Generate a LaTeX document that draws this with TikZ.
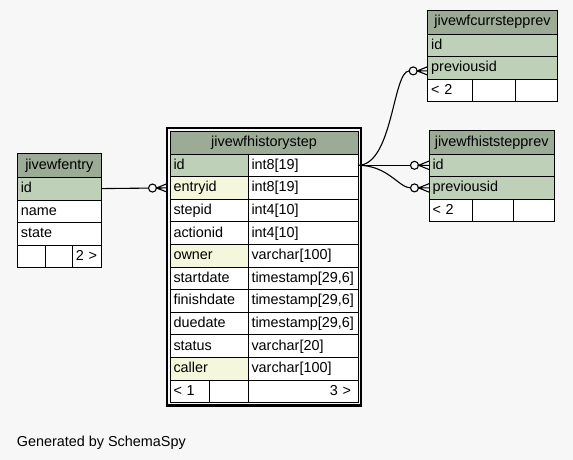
\documentclass[tikz,border=0pt]{standalone}
\usepackage{fontspec}
\setmainfont{Liberation Sans}
\usepackage{xcolor}
\usepackage{tikz}
\usetikzlibrary{arrows.meta,calc,fit,positioning}
\definecolor{ink}{RGB}{0,0,0}
\definecolor{bgfill}{RGB}{247,247,247}
\definecolor{headfill}{RGB}{155,171,150}
\definecolor{keyfill}{RGB}{190,209,184}
\definecolor{idxfill}{RGB}{245,247,220}
\newcommand\tabfont{\fontsize{14.4}{17}\selectfont}
% zero-or-many end: open circle, then crow's foot at the table
\pgfdeclarearrow{
  name=CrowO,
  setup code={
    \pgfarrowssettipend{0pt}
    \pgfarrowssetlineend{-18.5pt}
    \pgfarrowssetbackend{-18.5pt}
  },
  drawing code={
    \pgfsetdash{}{0pt}
    \pgfpathmoveto{\pgfqpoint{0pt}{4.2pt}}
    \pgfpathlineto{\pgfqpoint{-10.5pt}{0pt}}
    \pgfpathlineto{\pgfqpoint{0pt}{-4.2pt}}
    \pgfpathmoveto{\pgfqpoint{0pt}{0pt}}
    \pgfpathlineto{\pgfqpoint{-10.5pt}{0pt}}
    \pgfusepathqstroke
    \pgfpathcircle{\pgfqpoint{-14.5pt}{0pt}}{4pt}
    \pgfusepathqstroke
  }
}
\tikzset{
  cell/.style={draw=ink,line width=0.8pt,outer sep=0pt,inner xsep=3.5pt,inner ysep=0pt,minimum height=22.6pt,text height=11pt,text depth=3pt,align=left,fill=white,font=\tabfont},
  head/.style={cell,fill=headfill,align=center,minimum height=24pt},
  key/.style={cell,fill=keyfill},
  idx/.style={cell,fill=idxfill},
  mainframe/.style={draw=ink,line width=2.3pt,inner sep=3pt},
  fk/.style={draw=ink,line width=1.1pt,-{CrowO}}
}

\begin{document}
\begin{tikzpicture}[x=1pt,y=-1pt]
  \path[fill=bgfill,use as bounding box] (0,0) rectangle (573,460);
  % jivewfhistorystep
  \node[head,minimum height=23pt,text width=181pt,anchor=north west] (hhead) at (170,131) {jivewfhistorystep};
  \node[key,text width=71pt,below right=0pt of hhead.south west] (hid) {id};
  \node[cell,text width=103pt,right=0pt of hid] (hidt) {int8[19]};
  \node[idx,text width=71pt,below right=0pt of hid.south west] (hentry) {entryid};
  \node[cell,text width=103pt,right=0pt of hentry] (hentryt) {int8[19]};
  \node[cell,text width=71pt,below right=0pt of hentry.south west] (hstep) {stepid};
  \node[cell,text width=103pt,right=0pt of hstep] (hstept) {int4[10]};
  \node[cell,text width=71pt,below right=0pt of hstep.south west] (haction) {actionid};
  \node[cell,text width=103pt,right=0pt of haction] (hactiont) {int4[10]};
  \node[idx,text width=71pt,below right=0pt of haction.south west] (hown) {owner};
  \node[cell,text width=103pt,right=0pt of hown] (hownt) {varchar[100]};
  \node[cell,text width=71pt,below right=0pt of hown.south west] (hstart) {startdate};
  \node[cell,text width=103pt,right=0pt of hstart] (hstartt) {timestamp[29,6]};
  \node[cell,text width=71pt,below right=0pt of hstart.south west] (hfinish) {finishdate};
  \node[cell,text width=103pt,right=0pt of hfinish] (hfinisht) {timestamp[29,6]};
  \node[cell,text width=71pt,below right=0pt of hfinish.south west] (hdue) {duedate};
  \node[cell,text width=103pt,right=0pt of hdue] (hduet) {timestamp[29,6]};
  \node[cell,text width=71pt,below right=0pt of hdue.south west] (hstatus) {status};
  \node[cell,text width=103pt,right=0pt of hstatus] (hstatust) {varchar[20]};
  \node[idx,text width=71pt,below right=0pt of hstatus.south west] (hcaller) {caller};
  \node[cell,text width=103pt,right=0pt of hcaller] (hcallert) {varchar[100]};
  \node[cell,text width=32pt,below right=0pt of hcaller.south west] (hf1) {< 1};
  \node[cell,text width=32pt,right=0pt of hf1] (hf2) {};
  \node[cell,text width=96pt,inner xsep=7pt,align=right,right=0pt of hf2] (hf3) {3 >};
  \node[mainframe,fit=(hhead)(hf3)] (hframe) {};
  % jivewfentry
  \node[head,text width=77pt,anchor=north west] (ehead) at (17.3,153.3) {jivewfentry};
  \node[key,text width=77pt,below right=0pt of ehead.south west] (eid) {id};
  \node[cell,text width=77pt,below right=0pt of eid.south west] (ename) {name};
  \node[cell,text width=77pt,below right=0pt of ename.south west] (estate) {state};
  \node[cell,text width=21pt,below right=0pt of estate.south west] (ef1) {};
  \node[cell,text width=20pt,right=0pt of ef1] (ef2) {};
  \node[cell,text width=22pt,right=0pt of ef2] (ef3) {2 >};
  % jivewfcurrstepprev
  \node[head,text width=122.6pt,anchor=north west] (chead) at (427.7,10) {jivewfcurrstepprev};
  \node[key,text width=122.6pt,below right=0pt of chead.south west] (cid) {id};
  \node[key,text width=122.6pt,below right=0pt of cid.south west] (cprev) {previousid};
  \node[cell,text width=37.3pt,below right=0pt of cprev.south west] (cf1) {< 2};
  \node[cell,text width=36pt,right=0pt of cf1] (cf2) {};
  \node[cell,text width=35.3pt,right=0pt of cf2] (cf3) {};
  % jivewfhiststepprev
  \node[head,text width=118.3pt,anchor=north west] (shead) at (429,130) {jivewfhiststepprev};
  \node[key,text width=118.3pt,below right=0pt of shead.south west] (sid) {id};
  \node[key,text width=118.3pt,below right=0pt of sid.south west] (sprev) {previousid};
  \node[cell,text width=36pt,below right=0pt of sprev.south west] (sf1) {< 2};
  \node[cell,text width=34.3pt,right=0pt of sf1] (sf2) {};
  \node[cell,text width=34pt,right=0pt of sf2] (sf3) {};
  % relations
  \draw[fk] (eid.east) -- ([xshift=-3pt]hentry.west);
  \draw[fk] (hidt.east) .. controls +(35,0) and +(-35,0) .. ([yshift=-3pt]cprev.west);
  \draw[fk] (hidt.east) -- (sid.west);
  \draw[fk] (hidt.east) .. controls +(30,0) and +(-30,0) .. (sprev.west);
  \node[font=\tabfont,inner sep=0pt,anchor=base west] (gen) at (16.7,446) {Generated by SchemaSpy};
\end{tikzpicture}
\end{document}
